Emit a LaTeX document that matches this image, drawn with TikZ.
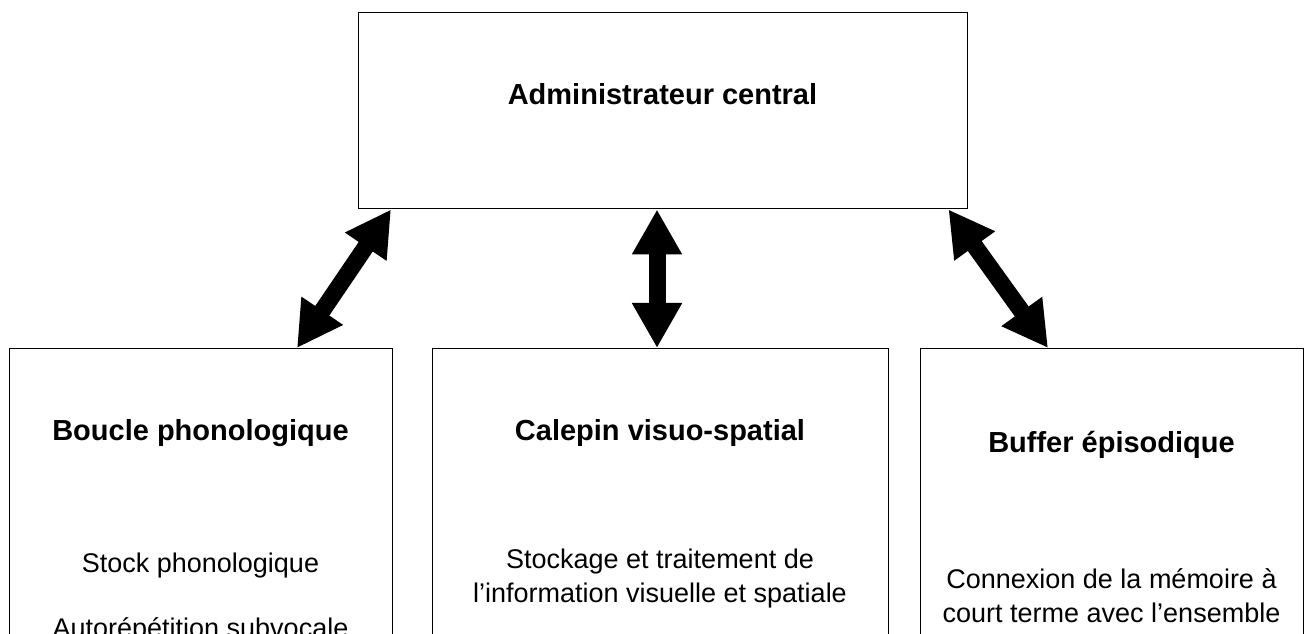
\documentclass[tikz,border=0pt]{standalone}
\usepackage{fontspec}
\setmainfont{Liberation Sans}
\usetikzlibrary{arrows.meta,calc}
\tikzset{
    box/.style={draw,line width=1.1pt,anchor=north west,inner sep=0pt},
    title/.style={font=\bfseries\fontsize{21.75pt}{26pt}\selectfont,anchor=base},
    body/.style={font=\fontsize{20.25pt}{25.5pt}\selectfont,anchor=base},
    twoway/.style={line width=12.75pt,{Triangle[length=33.75pt,width=35.25pt]}-{Triangle[length=33.75pt,width=35.25pt]}}
}
\begin{document}
\begin{tikzpicture}[x=0.75pt,y=-0.75pt]
        % Fix the page and cut off what lies below it
        \useasboundingbox (0,0) rectangle (1306,634);
        \clip (0,0) rectangle (1306,634);
        % Draw central box
        \node[box,minimum width=456.75pt,minimum height=147pt] (admin) at (358,12) {};
        \node[title] (admintitle) at (662.5,105) {Administrateur central};
        % Draw lower boxes
        \node[box,minimum width=287.25pt,minimum height=300pt] (loop) at (9,348) {};
        \node[box,minimum width=342pt,minimum height=300pt] (pad) at (432,348) {};
        \node[box,minimum width=287.25pt,minimum height=300pt] (buffer) at (920,348) {};
        % Draw titles
        \node[title] (looptitle) at (200.5,440) {Boucle phonologique};
        \node[title] (padtitle) at (660,440) {Calepin visuo-spatial};
        \node[title] (buffertitle) at (1111.5,452) {Buffer épisodique};
        % Draw text
        \node[body] (stock) at (200.5,572) {Stock phonologique};
        \node[body] (rehearsal) at (200.5,637) {Autorépétition subvocale};
        \node[body] (storage) at (660,568) {Stockage et traitement de};
        \node[body] (visual) at (660,602) {l’information visuelle et spatiale};
        \node[body] (link) at (1111.5,588) {Connexion de la mémoire à};
        \node[body] (shortterm) at (1111.5,622) {court terme avec l’ensemble};
        \node[body] (longterm) at (1111.5,654) {de la mémoire à long terme};
        % Draw arrows
        \draw[twoway] ($(admin.south west)+(33,0)$) -- ($(loop.north west)+(288,0)$);
        \draw[twoway] ($(admin.south west)+(299,0)$) -- ($(pad.north west)+(225,0)$);
        \draw[twoway] ($(admin.south east)+(-20,0)$) -- ($(buffer.north west)+(128,0)$);
    \end{tikzpicture}
\end{document}
